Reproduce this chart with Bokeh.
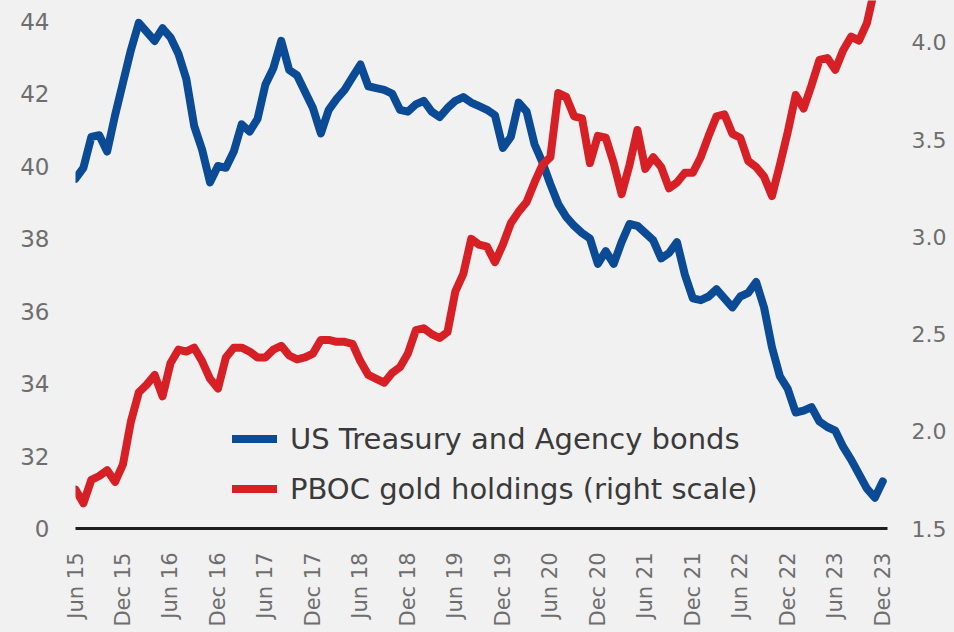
import math
from bokeh.plotting import figure
from bokeh.models import (Range1d, LinearAxis, FixedTicker, Legend, LegendItem,
                          PrintfTickFormatter)
from bokeh.embed import file_html
from bokeh.resources import INLINE

# ---- data (monthly, Jun 2015 .. Dec 2023) ----
x_tick_labels = ["Jun 15", "Dec 15", "Jun 16", "Dec 16", "Jun 17", "Dec 17",
                 "Jun 18", "Dec 18", "Jun 19", "Dec 19", "Jun 20", "Dec 20",
                 "Jun 21", "Dec 21", "Jun 22", "Dec 22", "Jun 23", "Dec 23"]

left_ticks = [30, 32, 34, 36, 38, 40, 42, 44]
left_tick_labels = ["0", "32", "34", "36", "38", "40", "42", "44"]
right_ticks = [1.5, 2.0, 2.5, 3.0, 3.5, 4.0]

treasury = [39.65, 39.95, 40.8, 40.85, 40.4, 41.4, 42.3, 43.2, 43.95, 43.7,
            43.45, 43.8, 43.55, 43.1, 42.4, 41.1, 40.45, 39.55, 40.0, 39.95,
            40.4, 41.15, 40.95, 41.3, 42.25, 42.7, 43.45, 42.65, 42.5, 42.05,
            41.6, 40.9, 41.55, 41.85, 42.1, 42.45, 42.8, 42.2, 42.15, 42.1,
            42.0, 41.55, 41.5, 41.7, 41.8, 41.5, 41.35, 41.6, 41.8, 41.9,
            41.75, 41.65, 41.55, 41.4, 40.5, 40.8, 41.75, 41.5, 40.6, 40.1,
            39.5, 38.95, 38.6, 38.35, 38.15, 38.0, 37.3, 37.65, 37.3, 37.9,
            38.4, 38.35, 38.15, 37.95, 37.45, 37.6, 37.9, 37.0, 36.35, 36.3,
            36.4, 36.6, 36.35, 36.1, 36.4, 36.5, 36.8, 36.1, 35.0, 34.2,
            33.85, 33.2, 33.25, 33.35, 32.95, 32.8, 32.7, 32.25, 31.9, 31.5,
            31.1, 30.85, 31.3]

gold = [1.70, 1.63, 1.75, 1.77, 1.80, 1.74, 1.83, 2.05, 2.20, 2.24,
        2.29, 2.18, 2.35, 2.42, 2.41, 2.43, 2.36, 2.27, 2.22, 2.38,
        2.43, 2.43, 2.41, 2.38, 2.38, 2.42, 2.44, 2.39, 2.37, 2.38,
        2.40, 2.47, 2.47, 2.46, 2.46, 2.45, 2.36, 2.29, 2.27, 2.25,
        2.30, 2.33, 2.40, 2.52, 2.53, 2.50, 2.48, 2.51, 2.72, 2.81,
        2.99, 2.96, 2.95, 2.87, 2.96, 3.07, 3.13, 3.18, 3.28, 3.37,
        3.41, 3.74, 3.72, 3.62, 3.61, 3.38, 3.52, 3.51, 3.38, 3.22,
        3.37, 3.55, 3.35, 3.41, 3.36, 3.25, 3.28, 3.33, 3.33, 3.41,
        3.52, 3.62, 3.63, 3.53, 3.51, 3.39, 3.36, 3.31, 3.21, 3.37,
        3.54, 3.73, 3.66, 3.78, 3.91, 3.92, 3.86, 3.96, 4.03, 4.01,
        4.10, 4.28, 4.40]

months = list(range(len(treasury)))

FONT = "DejaVu Sans"
BG = "#f1f1f1"
BLUE = "#0b4a94"
RED = "#d71f26"
TICK_COLOR = "#6e6e6e"

p = figure(frame_width=812, frame_height=528,
           min_border_left=75, min_border_right=67,
           min_border_top=0, min_border_bottom=104,
           x_range=Range1d(0, 102.6), y_range=Range1d(30, 44.566),
           output_backend="svg", toolbar_location=None,
           background_fill_color=BG, border_fill_color=BG,
           outline_line_color=None)
p.extra_y_ranges = {"gold": Range1d(1.5, 4.216)}
p.grid.visible = False

r1 = p.line(months, treasury, line_color=BLUE, line_width=8,
            line_join="round", line_cap="round")
r2 = p.line(months, gold, line_color=RED, line_width=8,
            line_join="round", line_cap="round", y_range_name="gold")

# left axis
ya = p.yaxis[0]
ya.ticker = FixedTicker(ticks=left_ticks)
ya.major_label_overrides = {t: l for t, l in zip(left_ticks, left_tick_labels)}
ya.axis_line_color = None
ya.major_tick_line_color = None
ya.minor_tick_line_color = None
ya.major_label_standoff = 20
ya.major_label_text_font = FONT
ya.major_label_text_font_size = "23px"
ya.major_label_text_color = TICK_COLOR

# right axis
ra = LinearAxis(y_range_name="gold", ticker=FixedTicker(ticks=right_ticks),
                formatter=PrintfTickFormatter(format="%.1f"))
ra.axis_line_color = None
ra.major_tick_line_color = None
ra.minor_tick_line_color = None
ra.major_label_standoff = 18
ra.major_label_text_font = FONT
ra.major_label_text_font_size = "22px"
ra.major_label_text_color = TICK_COLOR
p.add_layout(ra, "right")

# bottom axis
xa = p.xaxis[0]
x_ticks = [6 * i for i in range(len(x_tick_labels))]
xa.ticker = FixedTicker(ticks=x_ticks)
xa.major_label_overrides = {t: l for t, l in zip(x_ticks, x_tick_labels)}
xa.major_label_orientation = math.pi / 2
xa.axis_line_color = "#1e1e1e"
xa.axis_line_width = 3
xa.major_tick_line_color = None
xa.minor_tick_line_color = None
xa.major_label_standoff = 18
xa.major_label_text_font = FONT
xa.major_label_text_font_size = "21px"
xa.major_label_text_color = TICK_COLOR

legend = Legend(items=[
    LegendItem(label="US Treasury and Agency bonds", renderers=[r1]),
    LegendItem(label="PBOC gold holdings (right scale)", renderers=[r2]),
], location=(157, 22), orientation="vertical")
legend.background_fill_alpha = 0
legend.border_line_color = None
legend.padding = 0
legend.margin = 0
legend.spacing = 15
legend.glyph_width = 45
legend.glyph_height = 35
legend.label_height = 35
legend.label_standoff = 13
legend.label_text_font = FONT
legend.label_text_font_size = "29px"
legend.label_text_color = "#3a3a3a"
p.add_layout(legend)

html = file_html(p, INLINE)
html = html.replace("</head>", "<style>body{background:%s;}</style></head>" % BG, 1)
open("out.html", "w").write(html)
